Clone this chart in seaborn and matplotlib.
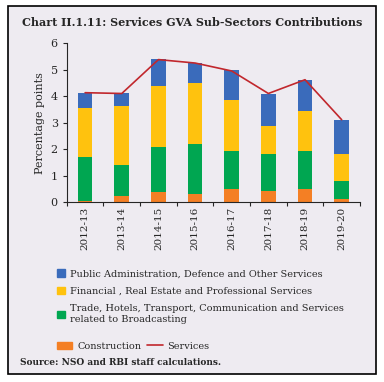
import seaborn as sns
import matplotlib.pyplot as plt
import matplotlib.patches as mpatches
import matplotlib.lines as mlines
import numpy as np
import pandas as pd

years = ["2012-13", "2013-14", "2014-15", "2015-16", "2016-17", "2017-18", "2018-19", "2019-20"]
construction = [0.03, 0.24, 0.39, 0.31, 0.49, 0.42, 0.49, 0.11]
trade = [1.69, 1.17, 1.70, 1.89, 1.45, 1.40, 1.45, 0.70]
financial = [1.85, 2.20, 2.29, 2.29, 1.90, 1.05, 1.49, 1.00]
public_admin = [0.54, 0.50, 1.02, 0.76, 1.13, 1.22, 1.19, 1.30]
services = [4.13, 4.10, 5.38, 5.25, 4.95, 4.10, 4.62, 3.11]

labels = [
    "Public Administration, Defence and Other Services",
    "Financial , Real Estate and Professional Services",
    "Trade, Hotels, Transport, Communication and Services\nrelated to Broadcasting",
    "Construction",
]
colors = ["#3a6bbb", "#ffc20e", "#00a651", "#f47f24"]
line_color = "#c1272d"
bg = "#eeebf1"

df = pd.DataFrame({"year": years, "construction": construction, "trade": trade,
                   "financial": financial, "public_admin": public_admin})
df["c1"] = df["construction"]
df["c2"] = df["c1"] + df["trade"]
df["c3"] = df["c2"] + df["financial"]
df["c4"] = df["c3"] + df["public_admin"]

sns.set_style("ticks")
plt.rcParams["font.family"] = ["DejaVu Serif"]

fig = plt.figure(figsize=(3.84, 3.82), dpi=100, facecolor="white")
# panel background + border
fig.patches.append(mpatches.Rectangle((0.021, 0.021), 0.958, 0.963, transform=fig.transFigure,
                                      facecolor=bg, edgecolor="black", lw=1.2, zorder=-10))

ax = fig.add_axes([0.174, 0.471, 0.7635, 0.416])
ax.set_facecolor(bg)

for col, c in zip(["c4", "c3", "c2", "c1"], colors):
    sns.barplot(data=df, x="year", y=col, color=c, width=0.4, ax=ax,
                saturation=1, edgecolor="none")
sns.lineplot(x=np.arange(len(years)), y=services, color=line_color, lw=1.2, ax=ax)

ax.set_ylim(0, 6)
ax.set_xlim(-0.5, len(years) - 0.5)
ax.set_yticks(range(0, 7))
ax.set_xlabel("")
ax.set_ylabel("Percentage points", fontsize=8)
ax.tick_params(axis="y", labelsize=8, length=3)
ax.set_xticks(np.arange(-0.5, len(years) + 0.5, 1))
ax.set_xticklabels([""] * (len(years) + 1))
ax.tick_params(axis="x", length=3)
ax.set_xticks(range(len(years)), minor=True)
ax.set_xticklabels(years, minor=True)
ax.tick_params(axis="x", which="minor", length=0, labelsize=7.5, rotation=90)
sns.despine(ax=ax, top=True, right=True)

fig.text(0.5, 0.942, "Chart II.1.11: Services GVA Sub-Sectors Contributions",
         ha="center", va="center", fontsize=8, fontweight="bold")

h = [mpatches.Patch(color=c) for c in colors]
leg = fig.legend(h[:3], labels[:3], loc="upper left", bbox_to_anchor=(0.125, 0.318),
                 frameon=False, fontsize=7, handlelength=0.8, handleheight=0.8,
                 handletextpad=0.6, labelspacing=0.85)
for t in leg.get_texts():
    t.set_linespacing(1.35)
fig.legend([h[3], mlines.Line2D([], [], color=line_color, lw=1.2)],
           ["Construction", "Services"], loc="upper left",
           bbox_to_anchor=(0.125, 0.128), ncol=2, frameon=False, fontsize=7,
           handlelength=1.6, handletextpad=0.5, columnspacing=0.6)

fig.text(0.053, 0.05, "Source: NSO and RBI staff calculations.", fontsize=6.5,
         fontweight="bold", va="center")

fig.savefig("out.png", dpi=100, facecolor="white")
